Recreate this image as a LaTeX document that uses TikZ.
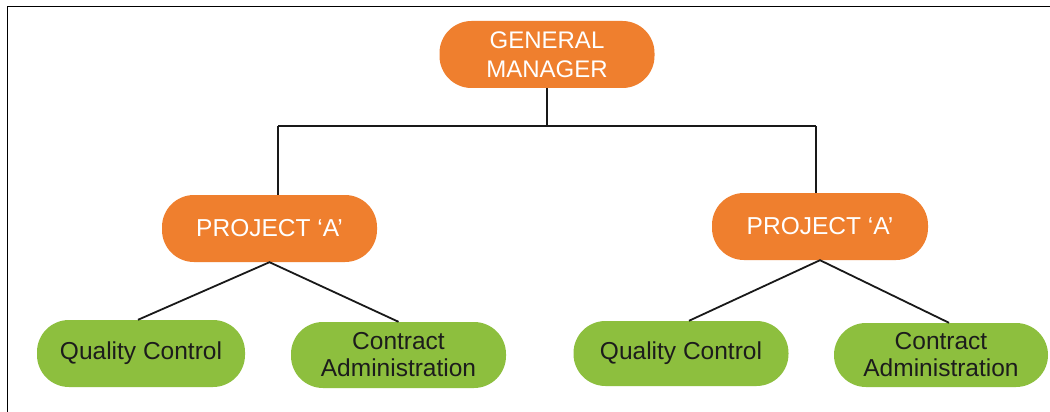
\documentclass[tikz,border=0pt]{standalone}
\usepackage{fontspec}
\setmainfont{Liberation Sans}
\definecolor{orgbox}{HTML}{EF7F2E}
\definecolor{grnbox}{HTML}{8DBF3E}
\definecolor{txtdark}{HTML}{1C1C1C}
\tikzset{
  boxbase/.style={rounded corners=32pt, inner sep=0pt, align=center, draw=none},
  orangebox/.style={boxbase, fill=orgbox, text=white, font=\fontsize{24.5}{27}\selectfont, minimum width=215pt, minimum height=67pt},
  greenbox/.style={boxbase, fill=grnbox, text=txtdark, font=\fontsize{24.5}{27}\selectfont, minimum height=66pt},
  conn/.style={line width=2pt, draw=black!90},
  frameline/.style={line width=1.6pt, draw=black}
}
\begin{document}
\begin{tikzpicture}[x=1pt,y=-1pt]
\useasboundingbox (0,0) rectangle (1050,412);
\fill[white] (0,0) rectangle (1050,412);
\draw[frameline] (1050,6.5) -- (7.5,6.5) -- (7.5,412);

\node[orangebox, font=\fontsize{24}{29}\selectfont] (gm) at (547,54.5) {GENERAL\\MANAGER};
\node[orangebox] (pa) at (269.5,228.5) {PROJECT ‘A’};
\node[orangebox, minimum width=216pt] (pb) at (820,226.5) {PROJECT ‘A’};

\node[greenbox, minimum width=208pt, minimum height=67pt] (qa) at (141,353.5) {Quality Control};
\node[greenbox, minimum width=215pt] (ca) at (398.5,355) {Contract\\Administration};
\node[greenbox, minimum width=215pt, minimum height=65pt] (qb) at (681,353.5) {Quality Control};
\node[greenbox, minimum width=214pt, minimum height=64pt] (cb) at (941,355) {Contract\\Administration};

\coordinate (jl) at (278,126);
\coordinate (jr) at (816,126);
\draw[conn] (gm.south) -- (gm.south |- jl);
\draw[conn] (jl) -- (jr);
\draw[conn] (jl) -- (jl |- pa.north);
\draw[conn] (jr) -- (jr |- pb.north);

\draw[conn, line width=1.8pt] ([xshift=-3pt]qa.north) -- (pa.south) -- (ca.north);
\draw[conn, line width=1.8pt] ([xshift=8pt]qb.north) -- (pb.south) -- ([xshift=8pt]cb.north);
\end{tikzpicture}
\end{document}
